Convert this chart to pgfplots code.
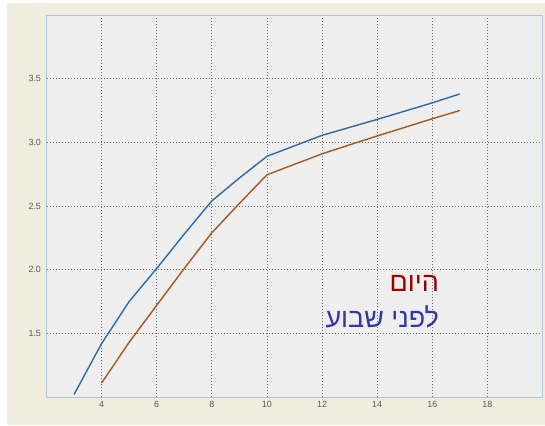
\documentclass[border=0pt]{standalone}
\usepackage{pgfplots}
\pgfplotsset{compat=1.18}
\usepackage{fontspec}
\setmainfont{Liberation Sans}
\newfontfamily\hebfont[Script=Hebrew]{Liberation Sans}
\TeXXeTstate=1

\definecolor{bgbeige}{HTML}{EEEDDE}
\definecolor{plotbg}{HTML}{EEEEEE}
\definecolor{framec}{HTML}{B4C4D0}
\definecolor{gridc}{HTML}{6E6E6E}
\definecolor{ticktext}{HTML}{5A5A5A}
\definecolor{lineblue}{HTML}{2D6BA6}
\definecolor{linebrown}{HTML}{A3581F}
\definecolor{todayred}{HTML}{990000}
\definecolor{weekblue}{HTML}{3535A5}

\begin{document}
\begin{tikzpicture}[x=1bp,y=1bp]
  % page frame and beige background
  \useasboundingbox (0,0) rectangle (545,425);
  \fill[bgbeige] (7,0) rectangle (545,422);
  \begin{axis}[
    at={(46.5bp,28bp)}, anchor=south west,
    scale only axis,
    width=496bp, height=382bp,
    xmin=2, xmax=20,
    ymin=1, ymax=4,
    xtick={4,6,...,18},
    ytick={1.5,2.0,2.5,3.0,3.5},
    yticklabel style={/pgf/number format/fixed,
      /pgf/number format/fixed zerofill,
      /pgf/number format/precision=1, xshift=-2bp},
    /pgf/number format/assume math mode=true,
    tick style={draw=none},
    ticklabel style={font=\fontsize{9}{10}\selectfont, text=ticktext},
    xticklabel style={yshift=-1bp},
    axis background/.style={fill=plotbg},
    axis line style={draw=framec, line width=0.8bp},
    grid=major,
    major grid style={gridc, dash pattern=on 1.1bp off 1.9bp, line width=0.8bp},
    clip=true,
  ]
    % last week (blue)
    \addplot[lineblue, line width=1.4bp, mark=none] coordinates {
      (3,1.02) (4,1.42) (5,1.75) (6,2.01) (7,2.28) (8,2.54)
      (9,2.72) (10,2.89) (12,3.055) (14,3.18) (16,3.31) (17,3.38)
    };
    % today (brown)
    \addplot[linebrown, line width=1.4bp, mark=none] coordinates {
      (4,1.11) (5,1.43) (6,1.72) (7,2.01) (8,2.29)
      (9,2.52) (10,2.745) (12,2.91) (14,3.05) (16,3.185) (17,3.25)
    };
    \node[anchor=east, inner sep=0pt, text=todayred, font=\hebfont\fontsize{27}{30}\selectfont]
      at (axis cs:16.25,1.895) {\beginR היום\endR};
    \node[anchor=east, inner sep=0pt, text=weekblue, font=\hebfont\fontsize{27}{30}\selectfont]
      at (axis cs:16.25,1.63) {\beginR לפני שבוע\endR};
  \end{axis}
\end{tikzpicture}
\end{document}
